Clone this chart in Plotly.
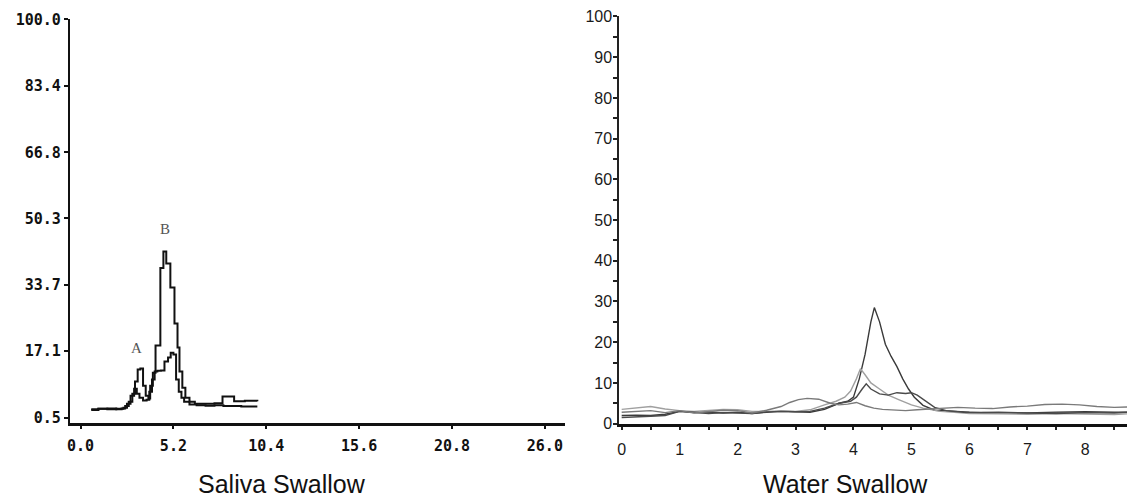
import plotly.graph_objects as go

W, H = 1131, 498

# ---- Left panel: Saliva Swallow ----
left_xticks = [0.0, 5.2, 10.4, 15.6, 20.8, 26.0]
left_xticktext = ["0.0", "5.2", "10.4", "15.6", "20.8", "26.0"]
left_yticks = [0.5, 17.1, 33.7, 50.3, 66.8, 83.4, 100.0]
left_yticktext = ["0.5", "17.1", "33.7", "50.3", "66.8", "83.4", "100.0"]

saliva1_x = [0.6, 1.0, 1.5, 2.0, 2.3, 2.5, 2.7, 2.9, 3.05, 3.2, 3.35, 3.5, 3.65, 3.8, 3.9, 4.05, 4.2,
             4.47, 4.64, 4.8, 5.03, 5.26, 5.43, 5.54, 5.7, 5.87, 6.1, 6.4, 7.0, 7.5, 7.95, 8.6, 9.2, 9.9]
saliva1_y = [2.4, 2.7, 2.8, 2.6, 2.8, 3.4, 4.5, 6.5, 9.5, 12.5, 12.8, 8.5, 6.0, 5.3, 8.5, 11.7, 18.5,
             37.9, 42.0, 39.0, 33.0, 24.0, 18.0, 12.0, 8.0, 5.5, 4.5, 4.0, 4.0, 4.1, 5.8, 4.6, 4.7, 4.6]

saliva2_x = [0.6, 1.0, 1.5, 2.0, 2.4, 2.6, 2.8, 3.0, 3.15, 3.3, 3.5, 3.7, 3.85, 4.0, 4.15, 4.3, 4.5,
             4.7, 4.9, 5.05, 5.2, 5.35, 5.5, 5.65, 5.8, 6.1, 6.5, 7.0, 7.5, 8.0, 9.0, 9.9]
saliva2_y = [2.6, 2.7, 2.6, 2.7, 3.0, 4.0, 6.0, 7.7, 6.5, 5.5, 4.8, 5.0, 7.0, 10.0, 12.0, 12.2, 12.3,
             14.5, 15.5, 16.7, 16.3, 10.0, 7.0, 5.5, 4.5, 3.8, 3.6, 3.5, 3.6, 3.4, 3.3, 3.3]

# ---- Right panel: Water Swallow ----
right_xticks = [0, 1, 2, 3, 4, 5, 6, 7, 8]
right_yticks = [0, 10, 20, 30, 40, 50, 60, 70, 80, 90, 100]

water1_x = [0, 0.25, 0.5, 0.75, 1.0, 1.25, 1.5, 1.75, 2.0, 2.25, 2.5, 2.75, 3.0, 3.25, 3.5, 3.75, 3.9,
            4.0, 4.1, 4.2, 4.3, 4.36, 4.45, 4.55, 4.65, 4.75, 4.85, 4.95, 5.05, 5.2, 5.4, 5.7, 6.0,
            6.5, 7.0, 7.5, 8.0, 8.5, 8.72]
water1_y = [2.0, 2.1, 2.0, 2.3, 3.0, 2.7, 2.8, 2.6, 2.8, 2.5, 2.8, 3.0, 2.9, 2.8, 3.5, 5.0, 5.5,
            6.5, 11.0, 17.0, 25.0, 28.5, 25.0, 19.5, 16.5, 14.0, 11.0, 8.5, 6.5, 4.5, 3.3, 3.0, 2.8,
            2.7, 2.6, 2.8, 2.9, 2.8, 2.8]

water2_x = [0, 0.25, 0.5, 0.75, 1.0, 1.25, 1.5, 1.75, 2.0, 2.25, 2.5, 2.75, 3.0, 3.25, 3.5, 3.7, 3.85,
            3.95, 4.05, 4.12, 4.2, 4.3, 4.45, 4.6, 4.8, 5.0, 5.2, 5.5, 5.8, 6.0, 6.5, 7.0, 7.5, 8.0,
            8.5, 8.72]
water2_y = [3.5, 3.8, 4.2, 3.6, 3.2, 3.0, 3.2, 3.5, 3.4, 3.0, 3.0, 3.1, 3.0, 3.4, 4.6, 5.5, 6.5,
            8.0, 11.0, 13.5, 12.0, 10.0, 8.5, 7.0, 5.8, 4.6, 3.8, 3.0, 2.7, 2.5, 2.4, 2.3, 2.5, 2.4,
            2.2, 2.4]

water3_x = [0, 0.25, 0.5, 0.75, 1.0, 1.25, 1.5, 1.75, 2.0, 2.25, 2.5, 2.75, 3.0, 3.25, 3.5, 3.75, 3.95,
            4.05, 4.15, 4.22, 4.3, 4.45, 4.6, 4.75, 4.9, 5.0, 5.1, 5.25, 5.4, 5.6, 5.9, 6.2, 6.5, 7.0,
            7.5, 8.0, 8.5, 8.72]
water3_y = [1.5, 1.6, 1.8, 2.0, 3.0, 2.8, 2.5, 2.7, 2.6, 2.5, 2.9, 3.0, 2.9, 3.0, 3.8, 5.0, 5.5,
            6.5, 8.5, 9.8, 8.5, 7.3, 7.0, 7.6, 7.4, 7.6, 7.0, 5.5, 4.0, 3.2, 2.8, 2.7, 2.8, 2.6,
            2.5, 2.7, 2.6, 2.8]

water4_x = [0, 0.25, 0.5, 0.75, 1.0, 1.25, 1.5, 1.75, 2.0, 2.25, 2.5, 2.75, 2.9, 3.05, 3.2, 3.4, 3.6,
            3.75, 3.9, 4.05, 4.2, 4.35, 4.5, 4.7, 4.9, 5.1, 5.3, 5.5, 5.8, 6.1, 6.4, 6.7, 7.0, 7.3,
            7.6, 7.9, 8.2, 8.5, 8.72]
water4_y = [2.8, 3.0, 3.2, 2.7, 3.2, 2.6, 3.0, 3.3, 3.2, 2.6, 3.3, 4.2, 5.2, 5.9, 6.2, 6.0, 5.0,
            4.6, 4.8, 5.2, 4.4, 3.8, 3.5, 3.3, 3.2, 3.4, 3.6, 3.8, 4.0, 3.8, 3.7, 4.1, 4.3, 4.7,
            4.8, 4.6, 4.2, 4.0, 4.1]

titles = ["Saliva Swallow", "Water Swallow"]
peak_labels = ["A", "B"]
peak_label_x = [3.13, 4.75]
peak_label_y = [18.0, 47.6]

fig = go.Figure()

for xs, ys in [(saliva1_x, saliva1_y), (saliva2_x, saliva2_y)]:
    fig.add_trace(go.Scatter(x=xs, y=ys, mode="lines", line=dict(color="#111", width=2, shape="hv"),
                             xaxis="x", yaxis="y", showlegend=False, hoverinfo="skip"))

water_colors = ["#3a3a3a", "#a0a0a0", "#4a4a4a", "#7a7a7a"]
for (xs, ys), c in zip([(water1_x, water1_y), (water2_x, water2_y), (water3_x, water3_y),
                        (water4_x, water4_y)], water_colors):
    fig.add_trace(go.Scatter(x=xs, y=ys, mode="lines", line=dict(color=c, width=1.4),
                             xaxis="x2", yaxis="y2", showlegend=False, hoverinfo="skip"))

# observed render area: top offset and effective height
TOP, PH = 7.5, 481.0

def px_x(p):
    return p / W

def px_y(p):
    return 1 - (p - TOP) / PH

mono = dict(family="DejaVu Sans Mono", size=15, color="#111", weight="bold")
sans = dict(family="Liberation Sans, Arial", size=16, color="#1a1a1a")

fig.update_layout(
    width=W, height=H, autosize=False,
    margin=dict(l=0, r=0, t=0, b=0),
    paper_bgcolor="white", plot_bgcolor="white",
    xaxis=dict(domain=[px_x(67), px_x(563)], range=[-0.6, 27.1], anchor="y",
               tickvals=left_xticks, ticktext=left_xticktext, ticks="outside", ticklen=4,
               tickwidth=2, tickcolor="#111", showline=True, linewidth=2.5, linecolor="#111",
               showgrid=False, zeroline=False, tickfont=mono, ticklabelstandoff=4),
    yaxis=dict(domain=[px_y(422), px_y(18)], range=[-0.75, 100.0], anchor="x",
               tickvals=left_yticks, ticktext=left_yticktext, ticks="outside", ticklen=4,
               tickwidth=2, tickcolor="#111", showline=True, linewidth=2, linecolor="#111",
               showgrid=False, zeroline=False, tickfont=mono),
    yaxis3=dict(overlaying="y", anchor="x", range=[-0.75, 100.0], tickvals=left_yticks,
                ticks="inside", ticklen=4, tickwidth=2, tickcolor="#111", showticklabels=False,
                showline=False, showgrid=False, zeroline=False),
    xaxis2=dict(domain=[px_x(618), px_x(1127)], range=[-0.04, 8.72], anchor="y2",
                tickvals=right_xticks, ticks="outside", ticklen=3, tickwidth=1.5, tickcolor="#222",
                minor=dict(dtick=0.5, ticks="outside", ticklen=3, tickwidth=1.5, tickcolor="#222"),
                showline=True, linewidth=3, linecolor="#111", showgrid=False, zeroline=False,
                tickfont=sans, ticklabelstandoff=6),
    yaxis2=dict(domain=[px_y(423), px_y(15)], range=[0, 100], anchor="x2",
                tickvals=right_yticks, ticks="outside", ticklen=4, tickwidth=1.5, tickcolor="#222",
                minor=dict(dtick=5, ticks="outside", ticklen=4, tickwidth=1.5, tickcolor="#222"),
                showline=True, linewidth=2, linecolor="#222", showgrid=False, zeroline=False,
                tickfont=sans, ticklabelstandoff=-2),
    yaxis4=dict(overlaying="y2", anchor="x2", range=[0, 100], dtick=5, tick0=0,
                ticks="inside", ticklen=4, tickwidth=1.5, tickcolor="#222", showticklabels=False,
                showline=False, showgrid=False, zeroline=False),
)

for t, xc in zip(titles, [280, 845]):
    fig.add_annotation(text=t, xref="paper", yref="paper", x=px_x(xc), y=px_y(483),
                       showarrow=False, xanchor="center", yanchor="middle",
                       font=dict(family="Liberation Sans, Arial", size=25, color="#111"))

for lab, lx, ly in zip(peak_labels, peak_label_x, peak_label_y):
    fig.add_annotation(text=lab, x=lx, y=ly, xref="x", yref="y", showarrow=False,
                       font=dict(family="Liberation Serif, Times New Roman", size=15, color="#555"))

fig.write_html("out.html")
